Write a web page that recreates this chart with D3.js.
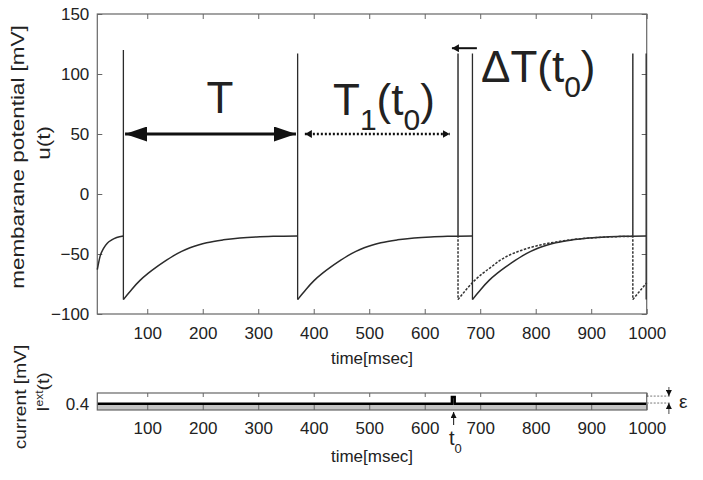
<!DOCTYPE html>
<html>
<head>
<meta charset="utf-8">
<script src="https://d3js.org/d3.v7.min.js"></script>
<style>
body { margin: 0; background: #fff; }
svg text { font-family: "Liberation Sans", Arial, Helvetica, sans-serif; fill: #222; }
</style>
</head>
<body>
<div id="chart"></div>
<script>
// ---- data ----
const timeTicks = [100, 200, 300, 400, 500, 600, 700, 800, 900, 1000];
const potentialTicks = [-100, -50, 0, 50, 100, 150];
const currentTicks = [0.4];

// unperturbed trace, recovery pieces between spikes [t, u]
const solidStart = [[10,-63],[15,-52],[21,-45.5],[28,-41],[36,-38.3],[45,-36.3],[57,-35]];
const solidSeg1 = [[57,-88],[64,-84],[72,-79.5],[87,-72],[102,-66],[117,-60.8],[132,-56],[147,-51.5],[162,-47.8],[177,-44.8],[192,-42.5],[207,-40.6],[237,-38.2],[267,-36.7],[297,-35.8],[327,-35.3],[371,-35]];
const solidSeg2 = [[371,-88],[378,-84],[386,-79.5],[401,-72],[416,-66],[431,-60.8],[446,-56],[461,-51.5],[476,-47.8],[491,-44.8],[506,-42.5],[521,-40.6],[551,-38.2],[581,-36.7],[611,-35.8],[641,-35.3],[686,-35]];
const solidSeg3 = [[686,-88],[693,-84],[701,-79.5],[716,-72],[731,-66],[746,-60.8],[761,-56],[776,-51.5],[791,-47.8],[806,-44.8],[821,-42.5],[836,-40.6],[866,-38.2],[896,-36.7],[926,-35.8],[956,-35.3],[999,-35]];
const solidSpikeTimes = [57, 371, 686, 999];
const solidSpikePeaks = [120, 117, 117, 117];

// perturbed trace (dashed), starts at t0
const dashedSeg1 = [[660,-88],[667,-84],[675,-79.5],[690,-72],[705,-66],[720,-60.8],[735,-55.5],[750,-51.5],[765,-48.5],[780,-46],[795,-44],[810,-42.3],[840,-39.7],[870,-37.8],[900,-36.6],[930,-35.8],[975,-35.3]];
const dashedSeg2 = [[975,-88],[982,-84],[990,-79.5],[1000,-74]];
const dashedSpikeTimes = [660, 975];
const dashedSpikePeaks = [117, 117];

// external current
const currentTimes = [10, 649, 649, 654, 654, 1000];
const currentValues = [0.4, 0.4, 0.422, 0.422, 0.4, 0.4];

// annotations
const periodArrow = [60, 368];      // T, at u = 50
const period1Arrow = [384, 645];    // T1(t0), at u = 50
const shiftArrow = [694, 649];      // Delta T(t0), at u = 121.5
const t0Mark = 652;
const epsLevels = [0.4025, 0.425];

// ---- layout ----
const width = 703, height = 480;
const svg = d3.select('#chart').append('svg')
    .attr('width', width)
    .attr('height', height);

const x = d3.scaleLinear().domain([10, 1000]).range([97.3, 646.7]);
const yU = d3.scaleLinear().domain([-100, 150]).range([314, 14]);
const yI = d3.scaleLinear().domain([0.38, 0.435]).range([410, 393]);

const axisColor = '#666';
const plainNum = d3.format('d');

function styleAxis(g) {
    g.select('.domain').remove();
    g.attr('font-family', '"Liberation Sans", Arial, sans-serif')
        .attr('font-size', 17)
        .attr('color', axisColor);
    g.selectAll('text').style('fill', '#222');
}

// markers
const defs = svg.append('defs');
function addMarker(id, len, half) {
    defs.append('marker')
        .attr('id', id)
        .attr('viewBox', `0 ${-half} ${len} ${2 * half}`)
        .attr('refX', len).attr('refY', 0)
        .attr('markerWidth', len).attr('markerHeight', 2 * half)
        .attr('markerUnits', 'userSpaceOnUse')
        .attr('orient', 'auto-start-reverse')
        .append('path')
        .attr('d', `M0,${-half}L${len},0L0,${half}Z`)
        .attr('fill', '#111');
}
addMarker('bigHead', 22, 7.5);
addMarker('smallHead', 7, 4);
addMarker('tinyHead', 6, 3);

// ---- top panel ----
const panelU = svg.append('g');

panelU.append('g').attr('transform', 'translate(0,314)')
    .call(d3.axisBottom(x).tickValues(timeTicks).tickFormat(plainNum).tickSize(-5).tickPadding(13))
    .call(styleAxis);
panelU.append('g').attr('transform', 'translate(0,14)')
    .call(d3.axisTop(x).tickValues(timeTicks).tickSize(-5).tickFormat(''))
    .call(styleAxis);
panelU.append('g').attr('transform', 'translate(97.3,0)')
    .call(d3.axisLeft(yU).tickValues(potentialTicks).tickFormat(plainNum).tickSize(-5).tickPadding(8))
    .call(styleAxis);
panelU.append('g').attr('transform', 'translate(646.7,0)')
    .call(d3.axisRight(yU).tickValues(potentialTicks).tickSize(-5).tickFormat(''))
    .call(styleAxis);

panelU.append('rect')
    .attr('x', x(10)).attr('y', yU(150))
    .attr('width', x(1000) - x(10)).attr('height', yU(-100) - yU(150))
    .attr('fill', 'none').attr('stroke', axisColor).attr('stroke-width', 1.2);

const curve = d3.line().x(d => x(d[0])).y(d => yU(d[1])).curve(d3.curveMonotoneX);
const straight = d3.line().x(d => x(d[0])).y(d => yU(d[1]));

function spikes(times, peaks) {
    return times.map((t, i) => [[t, -35], [t, peaks[i]], [t, -88]]);
}

const traceColor = '#2b2b2b';
panelU.selectAll('path.solid')
    .data([solidStart, solidSeg1, solidSeg2, solidSeg3])
    .enter().append('path')
    .attr('class', 'solid')
    .attr('d', curve)
    .attr('fill', 'none').attr('stroke', traceColor).attr('stroke-width', 1.5);
panelU.selectAll('path.solidSpike')
    .data(spikes(solidSpikeTimes, solidSpikePeaks))
    .enter().append('path')
    .attr('class', 'solidSpike')
    .attr('d', straight)
    .attr('fill', 'none').attr('stroke', traceColor).attr('stroke-width', 1.3);

panelU.selectAll('path.dashed')
    .data([dashedSeg1, dashedSeg2])
    .enter().append('path')
    .attr('class', 'dashed')
    .attr('d', curve)
    .attr('fill', 'none').attr('stroke', '#333').attr('stroke-width', 1.5)
    .attr('stroke-dasharray', '2.5,1.5');
panelU.selectAll('path.dashedSpike')
    .data(spikes(dashedSpikeTimes, dashedSpikePeaks))
    .enter().append('path')
    .attr('class', 'dashedSpike')
    .attr('d', straight)
    .attr('fill', 'none').attr('stroke', '#333').attr('stroke-width', 1.5)
    .attr('stroke-dasharray', '2.5,1.5');

// T arrow
panelU.append('line')
    .attr('x1', x(periodArrow[0])).attr('x2', x(periodArrow[1]))
    .attr('y1', yU(50)).attr('y2', yU(50))
    .attr('stroke', '#111').attr('stroke-width', 3)
    .attr('marker-start', 'url(#bigHead)').attr('marker-end', 'url(#bigHead)');
panelU.append('text')
    .attr('x', 220).attr('y', 113)
    .attr('text-anchor', 'middle')
    .attr('font-size', 44)
    .text('T');

// T1(t0) dotted arrow
panelU.append('line')
    .attr('x1', x(period1Arrow[0])).attr('x2', x(period1Arrow[1]))
    .attr('y1', yU(50)).attr('y2', yU(50))
    .attr('stroke', '#111').attr('stroke-width', 2.5)
    .attr('stroke-dasharray', '2,2')
    .attr('marker-start', 'url(#smallHead)').attr('marker-end', 'url(#smallHead)');
const t1 = panelU.append('text').attr('x', 333).attr('y', 115).attr('font-size', 44);
t1.append('tspan').text('T');
t1.append('tspan').attr('font-size', 30).attr('dy', 15).text('1');
t1.append('tspan').attr('dy', -15).text('(t');
t1.append('tspan').attr('font-size', 30).attr('dy', 15).text('0');
t1.append('tspan').attr('dy', -15).text(')');

// Delta T(t0)
panelU.append('line')
    .attr('x1', x(shiftArrow[0])).attr('x2', x(shiftArrow[1]))
    .attr('y1', yU(121.5)).attr('y2', yU(121.5))
    .attr('stroke', '#111').attr('stroke-width', 2)
    .attr('marker-end', 'url(#smallHead)');
const dt = panelU.append('text').attr('x', 481).attr('y', 82).attr('font-size', 44);
dt.append('tspan').text('\u0394T(t');
dt.append('tspan').attr('font-size', 30).attr('dy', 15).text('0');
dt.append('tspan').attr('dy', -15).text(')');

// axis titles
panelU.append('text')
    .attr('transform', 'translate(24,157) rotate(-90) scale(1.25,1)')
    .attr('text-anchor', 'middle')
    .attr('font-size', 18)
    .text('membarane potential [mV]');
panelU.append('text')
    .attr('transform', 'translate(50,143) rotate(-90) scale(1.25,1)')
    .attr('text-anchor', 'middle')
    .attr('font-size', 18)
    .text('u(t)');
panelU.append('text')
    .attr('x', 372).attr('y', 364)
    .attr('text-anchor', 'middle')
    .attr('font-size', 17)
    .text('time[msec]');

// ---- bottom panel ----
const panelI = svg.append('g');
const currentData = currentTimes.map((t, i) => [t, currentValues[i]]);

panelI.append('path')
    .datum(currentData)
    .attr('d', d3.area().x(d => x(d[0])).y0(yI(0.38)).y1(d => yI(d[1])))
    .attr('fill', '#c4c4c4');

panelI.append('g').attr('transform', 'translate(0,410)')
    .call(d3.axisBottom(x).tickValues(timeTicks).tickFormat(plainNum).tickSize(-6).tickPadding(12))
    .call(styleAxis);
panelI.append('g').attr('transform', 'translate(0,393)')
    .call(d3.axisTop(x).tickValues(timeTicks).tickSize(-4).tickFormat(''))
    .call(styleAxis);
panelI.append('g').attr('transform', 'translate(97.3,0)')
    .call(d3.axisLeft(yI).tickValues(currentTicks).tickSize(-4).tickPadding(8).tickFormat(d3.format('.1f')))
    .call(styleAxis);
panelI.append('g').attr('transform', 'translate(646.7,0)')
    .call(d3.axisRight(yI).tickValues(currentTicks).tickSize(-4).tickFormat(''))
    .call(styleAxis);

panelI.append('path')
    .datum(currentData)
    .attr('d', d3.line().x(d => x(d[0])).y(d => yI(d[1])))
    .attr('fill', 'none').attr('stroke', '#000').attr('stroke-width', 2.5);

panelI.append('rect')
    .attr('x', x(10)).attr('y', yI(0.435))
    .attr('width', x(1000) - x(10)).attr('height', yI(0.38) - yI(0.435))
    .attr('fill', 'none').attr('stroke', axisColor).attr('stroke-width', 1.2);

// t0 marker
panelI.append('line')
    .attr('x1', x(t0Mark)).attr('x2', x(t0Mark))
    .attr('y1', 425).attr('y2', 412)
    .attr('stroke', '#333').attr('stroke-width', 1.2)
    .attr('marker-end', 'url(#tinyHead)');
const t0 = panelI.append('text').attr('x', 449).attr('y', 445).attr('font-size', 20);
t0.append('tspan').text('t');
t0.append('tspan').attr('font-size', 13).attr('dy', 8).text('0');

// epsilon
panelI.selectAll('line.eps')
    .data(epsLevels)
    .enter().append('line')
    .attr('class', 'eps')
    .attr('x1', x(1000)).attr('x2', x(1044))
    .attr('y1', d => yI(d)).attr('y2', d => yI(d))
    .attr('stroke', '#555').attr('stroke-width', 0.8)
    .attr('stroke-dasharray', '2,1.5');
panelI.append('line')
    .attr('x1', x(1040)).attr('x2', x(1040))
    .attr('y1', 387).attr('y2', yI(epsLevels[1]))
    .attr('stroke', '#333').attr('stroke-width', 0.9)
    .attr('marker-end', 'url(#tinyHead)');
panelI.append('line')
    .attr('x1', x(1040)).attr('x2', x(1040))
    .attr('y1', 414).attr('y2', yI(epsLevels[0]))
    .attr('stroke', '#333').attr('stroke-width', 0.9)
    .attr('marker-end', 'url(#tinyHead)');
panelI.append('text')
    .attr('x', 679).attr('y', 408)
    .attr('font-size', 19)
    .text('\u03b5');

// titles
panelI.append('text')
    .attr('transform', 'translate(26,397) rotate(-90) scale(1.2,1)')
    .attr('text-anchor', 'middle')
    .attr('font-size', 16)
    .text('current [mV]');
const iext = panelI.append('text')
    .attr('transform', 'translate(49,392) rotate(-90) scale(1.2,1)')
    .attr('text-anchor', 'middle')
    .attr('font-size', 16);
iext.append('tspan').text('I');
iext.append('tspan').attr('font-size', 10).attr('dy', -6).text('ext');
iext.append('tspan').attr('dy', 6).text('(t)');
panelI.append('text')
    .attr('x', 372).attr('y', 462)
    .attr('text-anchor', 'middle')
    .attr('font-size', 17)
    .text('time[msec]');
</script>
</body>
</html>
